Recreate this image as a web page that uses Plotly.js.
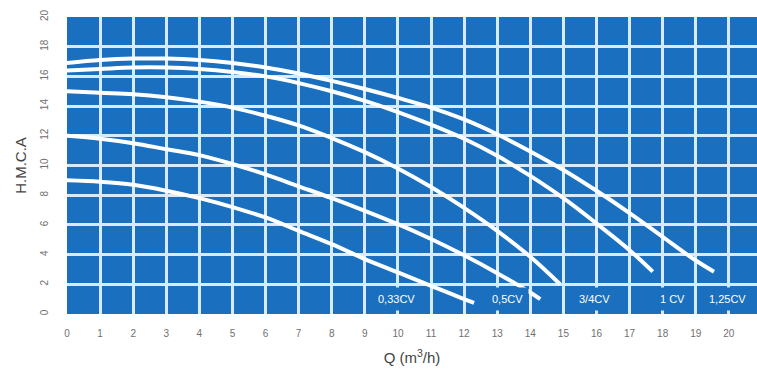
<!DOCTYPE html>
<html>
<head>
<meta charset="utf-8">
<script src="https://cdn.plot.ly/plotly-3.0.1.min.js"></script>
<style>html,body{margin:0;padding:0;background:#fff;}#chart{width:757px;height:380px;}</style>
</head>
<body>
<div id="chart"></div>
<script>
// Curves: flow Q (m3/h) and head H (m.c.a.)
const q033 = [0,1,2,3,4,5,6,7,8,9,10,11,12,12.3];
const h033 = [9.0,8.9,8.7,8.3,7.8,7.2,6.5,5.6,4.7,3.7,2.8,1.9,1.0,0.75];

const q05 = [0,1,2,3,4,5,6,7,8,9,10,11,12,13,14,14.3];
const h05 = [12.0,11.8,11.5,11.1,10.7,10.1,9.4,8.6,7.8,6.95,6.05,5.05,3.95,2.75,1.45,1.0];

const q075 = [0,1,2,3,4,5,6,7,8,9,10,11,12,13,14,14.9];
const h075 = [15.0,14.9,14.8,14.6,14.3,13.9,13.35,12.7,11.85,10.9,9.8,8.55,7.15,5.6,3.85,2.0];

const q1 = [0,1,2,3,4,5,6,7,8,9,10,11,12,13,14,15,16,17,17.7];
const h1 = [16.4,16.5,16.6,16.6,16.5,16.3,16.0,15.55,15.0,14.35,13.6,12.75,11.8,10.65,9.3,7.8,6.1,4.3,2.85];

const q125 = [0,1,2,3,4,5,6,7,8,9,10,11,12,13,14,15,16,17,18,19,19.55];
const h125 = [16.9,17.1,17.2,17.2,17.1,16.9,16.6,16.2,15.7,15.15,14.55,13.9,13.1,12.1,10.95,9.7,8.3,6.8,5.2,3.6,2.85];

const labelText = ["0,33CV","0,5CV","3/4CV","1 CV","1,25CV"];
const labelQ = [9.97,13.3,15.95,18.3,19.95];
const labelH = [1.0,1.0,1.0,1.0,1.0];

const xTicks = [0,1,2,3,4,5,6,7,8,9,10,11,12,13,14,15,16,17,18,19,20,21];
const yTicks = [0,2,4,6,8,10,12,14,16,18,20];

const BLUE = '#1a6fbe';
const GRID = '#d6ebff';
const series = [[q033,h033],[q05,h05],[q075,h075],[q1,h1],[q125,h125]];
const traces = series.map(s => ({
  x: s[0], y: s[1], type: 'scatter', mode: 'lines',
  line: {color: '#ffffff', width: 4, shape: 'spline', smoothing: 1},
  hoverinfo: 'skip', showlegend: false
}));

const annotations = labelText.map((t,i) => ({
  x: labelQ[i], y: labelH[i], xref: 'x', yref: 'y', text: t, showarrow: false,
  font: {family: 'Liberation Sans Narrow, Arial Narrow, sans-serif', size: 11, color: '#ffffff'},
  bgcolor: BLUE, borderpad: 5
}));

const tickFont = {family: 'Liberation Sans Narrow, Arial Narrow, sans-serif', size: 10, color: '#6f6f6f'};

const layout = {
  width: 757, height: 380,
  margin: {l: 67, r: 0, t: 17, b: 66},
  paper_bgcolor: '#ffffff', plot_bgcolor: BLUE,
  xaxis: {
    range: [0, 20.85], tickvals: xTicks, ticktext: xTicks.map(String),
    showgrid: true, gridcolor: GRID, gridwidth: 3, zeroline: false, showline: false,
    ticks: 'outside', ticklen: 10, tickcolor: 'rgba(0,0,0,0)', tickfont: tickFont,
    title: {text: 'Q (m<sup>3</sup>/h)', font: {family: 'Liberation Sans Narrow, Arial Narrow, sans-serif', size: 15, color: '#444'}, standoff: 14}
  },
  yaxis: {
    range: [0, 20], tickvals: yTicks, ticktext: yTicks.map(String),
    showgrid: true, gridcolor: GRID, gridwidth: 3, zeroline: false, showline: false,
    ticks: 'outside', ticklen: 14, tickcolor: 'rgba(0,0,0,0)', tickfont: tickFont, tickangle: -90,
    title: {text: 'H.M.C.A', font: {family: 'Liberation Sans Narrow, Arial Narrow, sans-serif', size: 15, color: '#444'}, standoff: 8}
  },
  annotations: annotations
};

Plotly.newPlot('chart', traces, layout, {displayModeBar: false, staticPlot: true});
</script>
</body>
</html>
